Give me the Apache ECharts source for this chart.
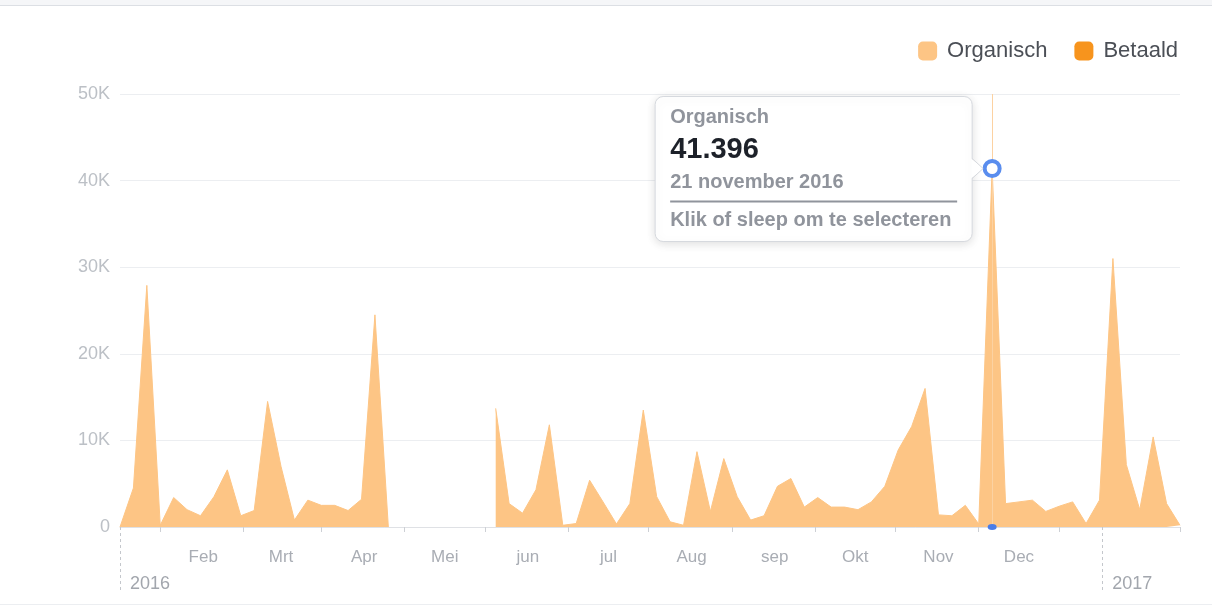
<!DOCTYPE html>
<html><head><meta charset="utf-8">
<script src="https://cdn.jsdelivr.net/npm/echarts@6/dist/echarts.min.js"></script>
<style>html,body{margin:0;padding:0;background:#fff}#c{width:1212px;height:606px}</style>
</head><body><div id="c"></div>
<script>
// ---- DATA ----
const dates = [
 '2016-01-01','2016-01-06','2016-01-11','2016-01-16','2016-01-21','2016-01-26','2016-01-31',
 '2016-02-05','2016-02-10','2016-02-15','2016-02-20','2016-02-25',
 '2016-03-01','2016-03-06','2016-03-11','2016-03-16','2016-03-21','2016-03-26','2016-03-31',
 '2016-04-05','2016-04-10','2016-04-15','2016-04-20','2016-04-25','2016-04-30',
 '2016-05-05','2016-05-10','2016-05-15','2016-05-20','2016-05-25','2016-05-30',
 '2016-06-04','2016-06-09','2016-06-14','2016-06-19','2016-06-24','2016-06-29',
 '2016-07-04','2016-07-09','2016-07-14','2016-07-19','2016-07-24','2016-07-29',
 '2016-08-03','2016-08-08','2016-08-13','2016-08-18','2016-08-23','2016-08-28',
 '2016-09-02','2016-09-07','2016-09-12','2016-09-17','2016-09-22','2016-09-27',
 '2016-10-02','2016-10-07','2016-10-12','2016-10-17','2016-10-22','2016-10-27',
 '2016-11-01','2016-11-06','2016-11-11','2016-11-16','2016-11-21','2016-11-26',
 '2016-12-01','2016-12-06','2016-12-11','2016-12-16','2016-12-21','2016-12-26','2016-12-31',
 '2017-01-05','2017-01-10','2017-01-15','2017-01-20','2017-01-25','2017-01-30'
];
const organisch = [
 0, 4500, 27900, 200, 3400, 2000, 1300,
 3500, 6600, 1300, 1900, 14500,
 7000, 800, 3100, 2500, 2500, 1900, 3200,
 24500, 0, null, null, null, null,
 null, null, null, 13700, 2700, 1600,
 4300, 11800, 200, 400, 5400, 2900,
 350, 2700, 13500, 3500, 600, 200,
 8700, 1800, 7900, 3500, 800, 1300,
 4700, 5600, 2300, 3400, 2300, 2300,
 2000, 2900, 4700, 8900, 11600, 16000,
 1400, 1300, 2500, 350, 41396, 2700,
 2900, 3100, 1800, 2400, 2900, 400, 3100,
 31000, 7200, 2000, 10400, 2700, 200
];
const betaald = [];
const seriesNames = ['Organisch', 'Betaald'];
const monthLabelDates = ['2016-02-01','2016-03-01','2016-04-01','2016-05-01','2016-06-01','2016-07-01','2016-08-01','2016-09-01','2016-10-01','2016-11-01','2016-12-01'];
const monthLabels = ['Feb','Mrt','Apr','Mei','jun','jul','Aug','sep','Okt','Nov','Dec'];
const tickDates = ['2016-01-16','2016-02-16','2016-03-16','2016-04-16','2016-05-16','2016-06-16','2016-07-16','2016-08-16','2016-09-16','2016-10-16','2016-11-16','2016-12-16','2017-01-30'];
const yearDates = ['2016-01-01','2017-01-01'];
const yearLabels = ['2016','2017'];
const axisStart = '2016-01-01';
const axisEnd = '2017-01-30';
const yTickValues = [0, 10000, 20000, 30000, 40000, 50000];
const yTickLabels = ['0', '10K', '20K', '30K', '40K', '50K'];
const dutchMonths = ['januari','februari','maart','april','mei','juni','juli','augustus','september','oktober','november','december'];
const highlightDate = '2016-11-21';
const tooltipHint = 'Klik of sleep om te selecteren';

// ---- CHART ----
const ts = s => Date.parse(s + 'T00:00:00Z');
const FONT = '"Liberation Sans", Arial, Helvetica, sans-serif';
const ORG = '#fdc585', BET = '#f7941d';
const hiIdx = dates.indexOf(highlightDate);
const hiT = ts(highlightDate), hiV = organisch[hiIdx];
const monthTs = monthLabelDates.map(ts), yearTs = yearDates.map(ts);

const chart = echarts.init(document.getElementById('c'));
const option = {
  animation: false,
  backgroundColor: '#fff',
  textStyle: { fontFamily: FONT },
  grid: { left: 120, right: 32, top: 94, bottom: 79, containLabel: false },
  legend: {
    data: seriesNames, right: 34, top: 40, icon: 'roundRect',
    itemWidth: 19, itemHeight: 19, itemGap: 27, padding: 0,
    textStyle: { fontSize: 22, color: '#4b4f56', fontFamily: FONT, padding: [0, 0, 0, 5] }
  },
  xAxis: [{
    type: 'value', min: ts(axisStart), max: ts(axisEnd),
    axisLine: { show: true, lineStyle: { color: '#dfe1e5', width: 1 } },
    axisTick: { show: true, customValues: tickDates.map(ts), length: 5, lineStyle: { color: '#cdd0d5' } },
    axisLabel: {
      customValues: monthTs, color: '#a9adb4', fontSize: 17, margin: 22, fontFamily: FONT,
      formatter: v => { const i = monthTs.indexOf(v); return i >= 0 ? monthLabels[i] : ''; }
    },
    splitLine: { show: false }
  }, {
    type: 'value', min: ts(axisStart), max: ts(axisEnd), position: 'bottom',
    axisLine: { show: false },
    axisTick: { show: true, customValues: yearTs, length: 63, lineStyle: { color: '#c4c7cc', type: [3, 3] } },
    axisLabel: {
      customValues: yearTs, color: '#a2a6ad', fontSize: 18, margin: 48, align: 'left',
      padding: [0, 0, 0, 10], fontFamily: FONT,
      formatter: v => { const i = yearTs.indexOf(v); return i >= 0 ? yearLabels[i] : ''; }
    },
    splitLine: { show: false }
  }],
  yAxis: {
    type: 'value', min: 0, max: 50000, interval: 10000,
    axisLine: { show: false }, axisTick: { show: false },
    axisLabel: {
      color: '#bcc0c6', fontSize: 18, margin: 10, fontFamily: FONT,
      formatter: v => { const i = yTickValues.indexOf(v); return i >= 0 ? yTickLabels[i] : ''; }
    },
    splitLine: { lineStyle: { color: '#eceef1', width: 1 } }
  },
  series: [{
    name: seriesNames[0], type: 'line', xAxisIndex: 0,
    data: dates.map((d, i) => [ts(d), organisch[i]]),
    symbol: 'none', connectNulls: false,
    lineStyle: { width: 1, color: ORG }, itemStyle: { color: ORG },
    areaStyle: { color: ORG, opacity: 1 },
    markLine: {
      silent: true, symbol: ['none', 'none'], label: { show: false },
      lineStyle: { color: '#fcd2a2', width: 1, type: 'solid' },
      data: [{ xAxis: hiT }]
    },
    markPoint: {
      silent: true, label: { show: false },
      data: [
        { coord: [hiT, hiV], symbol: 'circle', symbolSize: 15, itemStyle: { color: '#fff', borderColor: '#5a8dee', borderWidth: 4 } },
        { coord: [hiT, 0], symbol: 'circle', symbolSize: [9, 6], itemStyle: { color: '#4a7de8' } }
      ]
    }
  }, {
    name: seriesNames[1], type: 'line', xAxisIndex: 0,
    data: betaald, symbol: 'none',
    lineStyle: { width: 1, color: BET }, itemStyle: { color: BET },
    areaStyle: { color: BET, opacity: 1 }
  }]
};
chart.setOption(option);

// Tooltip-style callout positioned through the axis scales
const p = chart.convertToPixel({ xAxisIndex: 0, yAxisIndex: 0 }, [hiT, hiV]);
const px = p[0], py = p[1];
const fmtNum = n => String(n).replace(/\B(?=(\d{3})+(?!\d))/g, '.');
const d = new Date(hiT);
const dateText = d.getUTCDate() + ' ' + dutchMonths[d.getUTCMonth()] + ' ' + d.getUTCFullYear();
const bx = px - 337, by = py - 72, bw = 317, bh = 145;
const tx = bx + 15;
chart.setOption({
  graphic: [
    { type: 'rect', shape: { x: 0, y: 0, width: 1212, height: 5 }, style: { fill: '#f5f6f8' }, silent: true },
    { type: 'line', shape: { x1: 0, y1: 5.5, x2: 1212, y2: 5.5 }, style: { stroke: '#dcdfe4', lineWidth: 1 }, silent: true },
    { type: 'line', shape: { x1: 0, y1: 604.5, x2: 1212, y2: 604.5 }, style: { stroke: '#eceef1', lineWidth: 1 }, silent: true },
    { type: 'rect', z: 100, shape: { x: bx, y: by, width: bw, height: bh, r: 8 },
      style: { fill: '#fff', stroke: '#d6d9de', lineWidth: 1, shadowBlur: 10, shadowColor: 'rgba(0,0,0,0.13)', shadowOffsetY: 2 } },
    { type: 'polygon', z: 101, shape: { points: [[bx + bw - 1, py - 10], [bx + bw + 11, py], [bx + bw - 1, py + 10]] },
      style: { fill: '#fff', stroke: null } },
    { type: 'polyline', z: 101, shape: { points: [[bx + bw, py - 10], [bx + bw + 11, py], [bx + bw, py + 10]] },
      style: { stroke: '#d6d9de', lineWidth: 1, fill: null } },
    { type: 'text', z: 102, x: tx, y: py - 51, style: { text: seriesNames[0], font: 'bold 20px ' + FONT, fill: '#90949c', verticalAlign: 'middle' } },
    { type: 'text', z: 102, x: tx, y: py - 19, style: { text: fmtNum(hiV), font: 'bold 29px ' + FONT, fill: '#1d2129', verticalAlign: 'middle' } },
    { type: 'text', z: 102, x: tx, y: py + 14, style: { text: dateText, font: 'bold 20px ' + FONT, fill: '#90949c', verticalAlign: 'middle' } },
    { type: 'line', z: 102, shape: { x1: tx, y1: py + 33, x2: bx + bw - 15, y2: py + 33 }, style: { stroke: '#90949c', lineWidth: 2 } },
    { type: 'text', z: 102, x: tx, y: py + 52, style: { text: tooltipHint, font: 'bold 20px ' + FONT, fill: '#90949c', verticalAlign: 'middle' } }
  ]
});
</script>
</body></html>
